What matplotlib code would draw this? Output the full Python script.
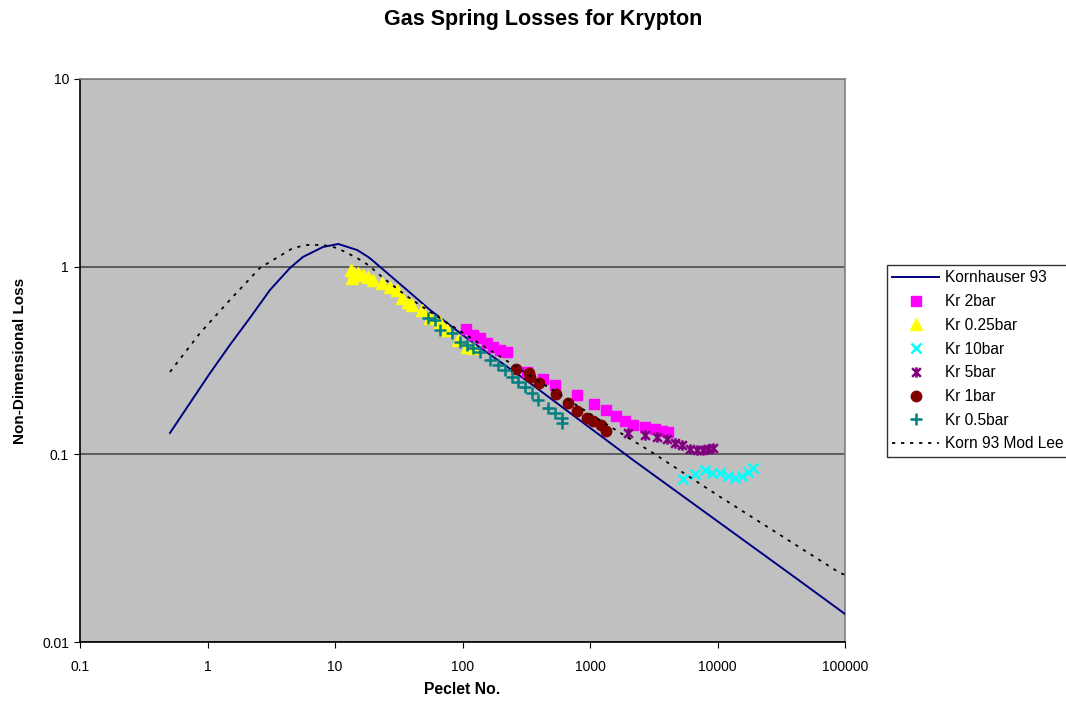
import numpy as np
import matplotlib
matplotlib.use("Agg")
import matplotlib.pyplot as plt
from matplotlib.path import Path

plt.rcParams['font.family'] = ['Liberation Sans', 'DejaVu Sans']

# ---- data ----
korn_pe = [0.508, 0.730, 1.047, 1.50, 2.15, 3.09, 4.44, 5.61, 8.05, 10.6, 14.9, 18.2,
           19.5, 36.7, 55.6, 104.7, 338, 2175, 42000, 100000]
korn_loss = [0.130, 0.188, 0.271, 0.383, 0.533, 0.751, 0.985, 1.127, 1.273, 1.321, 1.227, 1.127,
             1.086, 0.751, 0.588, 0.423, 0.240, 0.0933, 0.0217, 0.0141]

lee_pe = [0.508, 0.874, 1.50, 2.58, 3.09, 4.69, 6.03, 8.05, 10.4, 14.9, 18.2, 23.4,
          35.4, 52.7, 236, 1360, 3120, 9920, 91400, 100000]
lee_loss = [0.275, 0.443, 0.665, 0.985, 1.06, 1.258, 1.305, 1.305, 1.258, 1.112, 1.021, 0.881,
            0.707, 0.588, 0.307, 0.144, 0.1017, 0.0608, 0.0233, 0.0228]

kr2_pe = [106, 121, 137, 156, 173, 197, 223, 321, 428, 531, 791, 1075, 1334, 1600, 1882,
          2175, 2700, 3236, 3670, 4090]
kr2_loss = [0.466, 0.433, 0.417, 0.392, 0.373, 0.360, 0.351, 0.275, 0.252, 0.234, 0.207,
            0.186, 0.173, 0.160, 0.151, 0.144, 0.140, 0.137, 0.133, 0.132]

kr025_pe = [13.3, 13.6, 14.0, 15.1, 16.6, 18.2, 19.9, 23.4, 27.0, 30.6, 33.5, 37.4, 40.2,
            48.1, 55.6, 66.6, 75.5, 92.2, 108, 121]
kr025_loss = [0.960, 0.871, 0.925, 0.925, 0.903, 0.881, 0.849, 0.819, 0.780, 0.751, 0.681,
              0.649, 0.625, 0.588, 0.533, 0.507, 0.460, 0.407, 0.373, 0.370]

kr10_pe = [5360, 6670, 7980, 9060, 10470, 12090, 13710, 15570, 17340, 18980]
kr10_loss = [0.0739, 0.0787, 0.0826, 0.0796, 0.0796, 0.0767, 0.0749, 0.0767, 0.0805, 0.0847]

kr5_pe = [1986, 2700, 3350, 4018, 4645, 5270, 6085, 6905, 7700, 8420, 9220]
kr5_loss = [0.130, 0.127, 0.124, 0.121, 0.115, 0.112, 0.107, 0.1055, 0.1055, 0.107, 0.108]

kr1_pe = [263, 332, 338, 398, 541, 672, 791, 947, 1057, 1220, 1334]
kr1_loss = [0.285, 0.271, 0.258, 0.240, 0.210, 0.188, 0.170, 0.156, 0.151, 0.144, 0.133]

kr05_pe = [53.6, 60.9, 66.6, 82.7, 95.5, 108, 121, 137, 164, 190, 215, 244, 272, 309,
           351, 391, 469, 531, 603, 603]
kr05_loss = [0.533, 0.521, 0.460, 0.443, 0.397, 0.383, 0.370, 0.351, 0.319, 0.299, 0.282,
             0.258, 0.243, 0.229, 0.212, 0.195, 0.177, 0.166, 0.156, 0.147]

x_ticks = [0.1, 1, 10, 100, 1000, 10000, 100000]
x_labels = ["0.1", "1", "10", "100", "1000", "10000", "100000"]
y_ticks = [0.01, 0.1, 1, 10]
y_labels = ["0.01", "0.1", "1", "10"]

# ---- figure ----
fig = plt.figure(figsize=(10.66, 7.04), dpi=100)
ax = fig.add_axes([80 / 1066, 62 / 704, 765 / 1066, 563 / 704])
ax.set_facecolor('#C0C0C0')
ax.set_xscale('log')
ax.set_yscale('log')
ax.set_xlim(0.1, 100000)
ax.set_ylim(0.01, 10)

for y in y_ticks:
    ax.axhline(y, color='#555555', lw=1.3, zorder=1)

star = Path([(-1, -1), (1, 1), (-1, 1), (1, -1), (0, -1.2), (0, 1.2)],
            [Path.MOVETO, Path.LINETO, Path.MOVETO, Path.LINETO, Path.MOVETO, Path.LINETO])

ax.plot(korn_pe, korn_loss, color='#000080', lw=1.4, label='Kornhauser 93', zorder=3)
ax.plot(kr2_pe, kr2_loss, ls='none', marker='s', ms=6.8, color='#FF00FF',
        mec='#FF00FF', label='Kr 2bar', zorder=4)
ax.plot(kr025_pe, kr025_loss, ls='none', marker='^', ms=8.5, color='#FFFF00',
        mec='#FFFF00', label='Kr 0.25bar', zorder=4)
ax.plot(kr10_pe, kr10_loss, ls='none', marker='x', ms=7, mew=1.8, color='#00FFFF',
        label='Kr 10bar', zorder=4)
ax.plot(kr5_pe, kr5_loss, ls='none', marker=star, ms=7.5, mew=1.8, color='#800080',
        mfc='none', label='Kr 5bar', zorder=5)
ax.plot(kr1_pe, kr1_loss, ls='none', marker='o', ms=7.5, color='#800000',
        mec='#800000', label='Kr 1bar', zorder=5)
ax.plot(kr05_pe, kr05_loss, ls='none', marker='+', ms=8, mew=1.8, color='#008080',
        label='Kr 0.5bar', zorder=5)
ax.plot(lee_pe, lee_loss, color='black', lw=1.3, dashes=(1.8, 3.2),
        label='Korn 93 Mod Lee', zorder=6)

ax.set_xticks(x_ticks)
ax.set_xticklabels(x_labels)
ax.set_yticks(y_ticks)
ax.set_yticklabels(y_labels)
ax.minorticks_off()
ax.tick_params(axis='both', labelsize=10, length=4, direction='out', color='black', pad=4)
ax.tick_params(axis='x', pad=9)

for s in ax.spines.values():
    s.set_color('#808080')
    s.set_linewidth(1.2)
ax.spines['left'].set_color('black')
ax.spines['bottom'].set_color('black')

ax.set_xlabel('Peclet No.', fontsize=11.3, fontweight='bold', labelpad=6)
ax.set_ylabel('Non-Dimensional Loss', fontsize=11, fontweight='bold', labelpad=11)

fig.text(543 / 1066, 1 - 19 / 704, 'Gas Spring Losses for Krypton', fontsize=15.5,
         fontweight='bold', ha='center', va='center')

leg = fig.legend(loc='upper left', bbox_to_anchor=(887 / 1066, 1 - 265 / 704),
                 frameon=True, fancybox=False, fontsize=11.2, handlelength=3.0,
                 handletextpad=0.4, labelspacing=0.56, borderpad=0.35, borderaxespad=0)
leg.get_frame().set_edgecolor('black')
leg.get_frame().set_linewidth(1.0)

fig.savefig('out.png', dpi=100, facecolor='white')
